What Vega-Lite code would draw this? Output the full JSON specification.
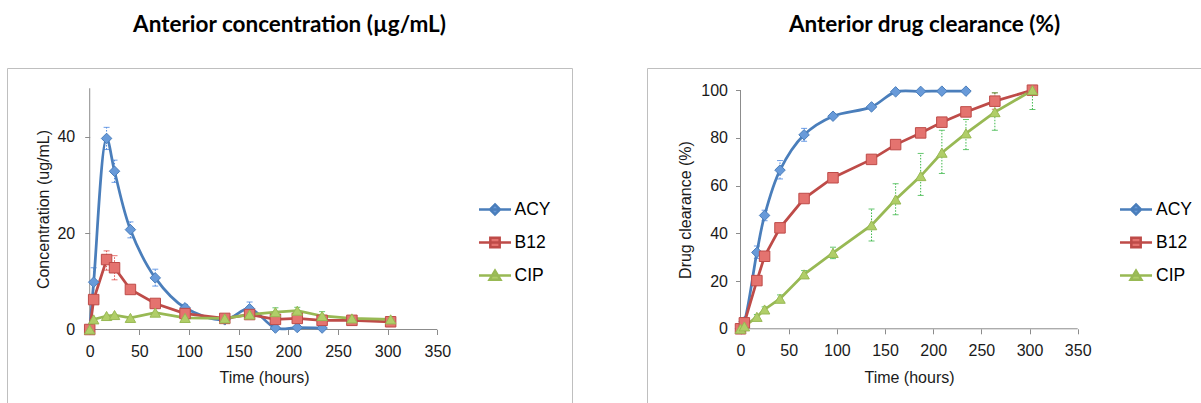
{
  "$schema": "https://vega.github.io/schema/vega-lite/v6.json",
  "padding": {"left": 6, "top": 13, "right": 0, "bottom": 0},
  "autosize": {"type": "pad"},
  "background": "white",
  "spacing": 73,
  "datasets": {
    "axisL": [{"x0": 0, "x1": 350, "y0": 0, "y1": 0}, {"x0": 0, "x1": 0, "y0": 0, "y1": 50}],
    "axisR": [{"x0": 0, "x1": 350, "y0": 0, "y1": 0}, {"x0": 0, "x1": 0, "y0": 0, "y1": 100}],
    "conc": [
      {"t": 0, "s": "ACY", "v": 0}, {"t": 4, "s": "ACY", "v": 9.8}, {"t": 17, "s": "ACY", "v": 39.6}, {"t": 25, "s": "ACY", "v": 32.8}, {"t": 41, "s": "ACY", "v": 20.7}, {"t": 66, "s": "ACY", "v": 10.7}, {"t": 96, "s": "ACY", "v": 4.5}, {"t": 136, "s": "ACY", "v": 2}, {"t": 161, "s": "ACY", "v": 4.3}, {"t": 187, "s": "ACY", "v": 0.3}, {"t": 209, "s": "ACY", "v": 0.4}, {"t": 234, "s": "ACY", "v": 0.3},
      {"t": 0, "s": "B12", "v": 0}, {"t": 4, "s": "B12", "v": 6.2}, {"t": 17, "s": "B12", "v": 14.5}, {"t": 25, "s": "B12", "v": 12.8}, {"t": 41, "s": "B12", "v": 8.3}, {"t": 66, "s": "B12", "v": 5.4}, {"t": 96, "s": "B12", "v": 3.3}, {"t": 136, "s": "B12", "v": 2.3}, {"t": 161, "s": "B12", "v": 3.1}, {"t": 187, "s": "B12", "v": 2.1}, {"t": 209, "s": "B12", "v": 2.3}, {"t": 234, "s": "B12", "v": 1.9}, {"t": 264, "s": "B12", "v": 1.9}, {"t": 303, "s": "B12", "v": 1.6},
      {"t": 0, "s": "CIP", "v": 0}, {"t": 4, "s": "CIP", "v": 2.1}, {"t": 17, "s": "CIP", "v": 2.8}, {"t": 25, "s": "CIP", "v": 3.0}, {"t": 41, "s": "CIP", "v": 2.4}, {"t": 66, "s": "CIP", "v": 3.5}, {"t": 96, "s": "CIP", "v": 2.4}, {"t": 136, "s": "CIP", "v": 2.3}, {"t": 161, "s": "CIP", "v": 3.1}, {"t": 187, "s": "CIP", "v": 3.6}, {"t": 209, "s": "CIP", "v": 3.9}, {"t": 234, "s": "CIP", "v": 2.8}, {"t": 264, "s": "CIP", "v": 2.3}, {"t": 303, "s": "CIP", "v": 2.1}
    ],
    "concErr": [
      {"t": 4, "s": "ACY", "lo": 6.8, "hi": 12.8}, {"t": 17, "s": "ACY", "lo": 37.3, "hi": 41.9}, {"t": 25, "s": "ACY", "lo": 30.5, "hi": 35.1}, {"t": 41, "s": "ACY", "lo": 19.0, "hi": 22.3}, {"t": 66, "s": "ACY", "lo": 9.0, "hi": 12.5}, {"t": 96, "s": "ACY", "lo": 3.9, "hi": 5.2}, {"t": 161, "s": "ACY", "lo": 3.0, "hi": 5.7},
      {"t": 17, "s": "B12", "lo": 12.3, "hi": 16.3}, {"t": 25, "s": "B12", "lo": 10.3, "hi": 15.3}, {"t": 41, "s": "B12", "lo": 7.5, "hi": 9.1},
      {"t": 187, "s": "CIP", "lo": 2.7, "hi": 4.5}, {"t": 209, "s": "CIP", "lo": 3.2, "hi": 4.6}, {"t": 234, "s": "CIP", "lo": 1.9, "hi": 3.7}
    ],
    "clear": [
      {"t": 0, "s": "ACY", "v": 0}, {"t": 4, "s": "ACY", "v": 3}, {"t": 17, "s": "ACY", "v": 32}, {"t": 25, "s": "ACY", "v": 47.5}, {"t": 41, "s": "ACY", "v": 66.5}, {"t": 66, "s": "ACY", "v": 81.3}, {"t": 96, "s": "ACY", "v": 89.1}, {"t": 136, "s": "ACY", "v": 93}, {"t": 161, "s": "ACY", "v": 99.3}, {"t": 187, "s": "ACY", "v": 99.5}, {"t": 209, "s": "ACY", "v": 99.6}, {"t": 234, "s": "ACY", "v": 99.6},
      {"t": 0, "s": "B12", "v": 0}, {"t": 4, "s": "B12", "v": 2.5}, {"t": 17, "s": "B12", "v": 20.2}, {"t": 25, "s": "B12", "v": 30.4}, {"t": 41, "s": "B12", "v": 42.3}, {"t": 66, "s": "B12", "v": 54.6}, {"t": 96, "s": "B12", "v": 63.3}, {"t": 136, "s": "B12", "v": 71}, {"t": 161, "s": "B12", "v": 77.2}, {"t": 187, "s": "B12", "v": 82.1}, {"t": 209, "s": "B12", "v": 86.6}, {"t": 234, "s": "B12", "v": 90.9}, {"t": 264, "s": "B12", "v": 95.4}, {"t": 303, "s": "B12", "v": 100},
      {"t": 0, "s": "CIP", "v": 0}, {"t": 4, "s": "CIP", "v": 1}, {"t": 17, "s": "CIP", "v": 5}, {"t": 25, "s": "CIP", "v": 8.1}, {"t": 41, "s": "CIP", "v": 12.6}, {"t": 66, "s": "CIP", "v": 22.8}, {"t": 96, "s": "CIP", "v": 31.8}, {"t": 136, "s": "CIP", "v": 43.4}, {"t": 161, "s": "CIP", "v": 54.2}, {"t": 187, "s": "CIP", "v": 64}, {"t": 209, "s": "CIP", "v": 73.8}, {"t": 234, "s": "CIP", "v": 81.9}, {"t": 264, "s": "CIP", "v": 90.8}, {"t": 303, "s": "CIP", "v": 100}
    ],
    "clearErr": [
      {"t": 17, "s": "ACY", "lo": 29.5, "hi": 34.7}, {"t": 25, "s": "ACY", "lo": 45.3, "hi": 49.7}, {"t": 41, "s": "ACY", "lo": 62.8, "hi": 70.5}, {"t": 66, "s": "ACY", "lo": 78.6, "hi": 84},
      {"t": 264, "s": "B12", "lo": 92, "hi": 98.9},
      {"t": 17, "s": "CIP", "lo": 4, "hi": 6}, {"t": 25, "s": "CIP", "lo": 7, "hi": 9.2}, {"t": 41, "s": "CIP", "lo": 11, "hi": 14.2}, {"t": 66, "s": "CIP", "lo": 21.2, "hi": 24.4}, {"t": 96, "s": "CIP", "lo": 29.4, "hi": 34.2}, {"t": 136, "s": "CIP", "lo": 36.8, "hi": 50.2}, {"t": 161, "s": "CIP", "lo": 47.8, "hi": 60.8}, {"t": 187, "s": "CIP", "lo": 55.9, "hi": 73.5}, {"t": 209, "s": "CIP", "lo": 65.1, "hi": 83.2}, {"t": 234, "s": "CIP", "lo": 75.1, "hi": 87.7}, {"t": 264, "s": "CIP", "lo": 83.2, "hi": 98.9}, {"t": 303, "s": "CIP", "lo": 91.9, "hi": 100}
    ]
  },
  "hconcat": [
    {
      "title": {"text": "Anterior concentration (µg/mL)"},
      "width": 565,
      "height": 336,
      "layer": [
        {
          "data": {"name": "axisL"},
          "mark": {"type": "rule", "color": "#8C8C8C", "strokeWidth": 1},
          "encoding": {
            "x": {"field": "x0", "type": "quantitative", "scale": {"domain": [-83.27, 485.6], "nice": false, "zero": false},
              "axis": {"title": "Time (hours)", "values": [0, 50, 100, 150, 200, 250, 300, 350], "offset": -74.5, "labelPadding": 9, "titleX": 257, "titleY": 52.5}},
            "x2": {"field": "x1"},
            "y": {"field": "y0", "type": "quantitative", "scale": {"domain": [-15.44, 54.2], "nice": false, "zero": false},
              "axis": {"title": "Concentration (ug/mL)", "values": [0, 20, 40], "offset": -82.7, "labelPadding": 10, "titleX": -41.4, "titleY": 141}},
            "y2": {"field": "y1"}
          }
        },
        {
          "data": {"name": "conc"},
          "mark": {"type": "point", "filled": true, "opacity": 0},
          "encoding": {
            "x": {"field": "t", "type": "quantitative"},
            "y": {"field": "v", "type": "quantitative"},
            "shape": {"field": "s", "type": "nominal", "scale": {"domain": ["ACY", "B12", "CIP"], "range": ["M-1.47,0H1.47M0,-0.46L0.46,0L0,0.46L-0.46,0Z", "M-1.47,0H1.47M-0.43,-0.43H0.43V0.43H-0.43Z", "M-1.47,0H1.47M0,-0.45L0.5,0.38H-0.5Z"]},
              "legend": {"title": null, "orient": "none", "legendX": 475.5, "legendY": 129, "symbolSize": 475, "symbolStrokeWidth": 2.5, "symbolOpacity": 1, "labelFontSize": 17.5, "labelFont": "Liberation Sans", "labelColor": "#000000", "labelOffset": 7, "rowPadding": 10, "padding": 0}},
            "fill": {"field": "s", "type": "nominal", "scale": {"domain": ["ACY", "B12", "CIP"], "range": ["#689AD9", "#E4736F", "#B0CE68"]}},
            "stroke": {"field": "s", "type": "nominal", "scale": {"domain": ["ACY", "B12", "CIP"], "range": ["#4A7EBB", "#BE4B48", "#98B954"]}}
          }
        },
        {
          "data": {"name": "concErr"},
          "mark": {"type": "rule", "strokeWidth": 1, "strokeDash": [1.5, 1.5]},
          "encoding": {
            "x": {"field": "t", "type": "quantitative"},
            "y": {"field": "lo", "type": "quantitative"},
            "y2": {"field": "hi"},
            "color": {"field": "s", "type": "nominal", "scale": {"domain": ["ACY", "B12", "CIP"], "range": ["#4A86E0", "#E0504C", "#3DB84A"]}}
          }
        },
        {
          "data": {"name": "concErr"},
          "mark": {"type": "tick", "orient": "horizontal", "size": 6, "thickness": 1, "opacity": 0.8},
          "encoding": {
            "x": {"field": "t", "type": "quantitative"},
            "y": {"field": "lo", "type": "quantitative"},
            "color": {"field": "s", "type": "nominal"}
          }
        },
        {
          "data": {"name": "concErr"},
          "mark": {"type": "tick", "orient": "horizontal", "size": 6, "thickness": 1, "opacity": 0.8},
          "encoding": {
            "x": {"field": "t", "type": "quantitative"},
            "y": {"field": "hi", "type": "quantitative"},
            "color": {"field": "s", "type": "nominal"}
          }
        },
        {
          "data": {"name": "conc"},
          "transform": [{"filter": "datum.s === 'ACY'"}],
          "mark": {"type": "line", "interpolate": "catmull-rom", "strokeWidth": 2.75},
          "encoding": {
            "x": {"field": "t", "type": "quantitative"},
            "y": {"field": "v", "type": "quantitative"},
            "stroke": {"field": "s", "type": "nominal"}
          }
        },
        {
          "data": {"name": "conc"},
          "transform": [{"filter": "datum.s !== 'ACY'"}],
          "mark": {"type": "line", "strokeWidth": 2.75},
          "encoding": {
            "x": {"field": "t", "type": "quantitative"},
            "y": {"field": "v", "type": "quantitative"},
            "stroke": {"field": "s", "type": "nominal"}
          }
        },
        {
          "data": {"name": "conc"},
          "transform": [{"filter": "datum.s === 'ACY'"}],
          "mark": {"type": "point", "shape": "diamond", "filled": true, "strokeWidth": 1, "opacity": 1, "size": 110},
          "encoding": {
            "x": {"field": "t", "type": "quantitative"},
            "y": {"field": "v", "type": "quantitative"},
            "fill": {"field": "s", "type": "nominal"},
            "stroke": {"field": "s", "type": "nominal"}
          }
        },
        {
          "data": {"name": "conc"},
          "transform": [{"filter": "datum.s === 'B12'"}],
          "mark": {"type": "point", "shape": "square", "filled": true, "strokeWidth": 1, "opacity": 1, "size": 110},
          "encoding": {
            "x": {"field": "t", "type": "quantitative"},
            "y": {"field": "v", "type": "quantitative"},
            "fill": {"field": "s", "type": "nominal"},
            "stroke": {"field": "s", "type": "nominal"}
          }
        },
        {
          "data": {"name": "conc"},
          "transform": [{"filter": "datum.s === 'CIP'"}],
          "mark": {"type": "point", "shape": "triangle-up", "filled": true, "strokeWidth": 1, "opacity": 1, "size": 110},
          "encoding": {
            "x": {"field": "t", "type": "quantitative"},
            "y": {"field": "v", "type": "quantitative"},
            "fill": {"field": "s", "type": "nominal"},
            "stroke": {"field": "s", "type": "nominal"}
          }
        }
      ]
    },
    {
      "title": {"text": "Anterior drug clearance (%)"},
      "width": 555,
      "height": 336,
      "layer": [
        {
          "data": {"name": "axisR"},
          "mark": {"type": "rule", "color": "#8C8C8C", "strokeWidth": 1},
          "encoding": {
            "x": {"field": "x0", "type": "quantitative", "scale": {"domain": [-97.05, 479.0], "nice": false, "zero": false},
              "axis": {"title": "Time (hours)", "values": [0, 50, 100, 150, 200, 250, 300, 350], "offset": -75.2, "labelPadding": 9, "titleX": 262, "titleY": 53.2}},
            "x2": {"field": "x1"},
            "y": {"field": "y0", "type": "quantitative", "scale": {"domain": [-31.52, 109.3], "nice": false, "zero": false},
              "axis": {"title": "Drug clearance (%)", "values": [0, 20, 40, 60, 80, 100], "offset": -93.5, "labelPadding": 8, "titleX": -50, "titleY": 141.5}},
            "y2": {"field": "y1"}
          }
        },
        {
          "data": {"name": "clear"},
          "mark": {"type": "point", "filled": true, "opacity": 0},
          "encoding": {
            "x": {"field": "t", "type": "quantitative"},
            "y": {"field": "v", "type": "quantitative"},
            "shape": {"field": "s", "type": "nominal", "scale": {"domain": ["ACY", "B12", "CIP"], "range": ["M-1.47,0H1.47M0,-0.46L0.46,0L0,0.46L-0.46,0Z", "M-1.47,0H1.47M-0.43,-0.43H0.43V0.43H-0.43Z", "M-1.47,0H1.47M0,-0.45L0.5,0.38H-0.5Z"]},
              "legend": {"title": null, "orient": "none", "legendX": 476.5, "legendY": 129, "symbolSize": 475, "symbolStrokeWidth": 2.5, "symbolOpacity": 1, "labelFontSize": 17.5, "labelFont": "Liberation Sans", "labelColor": "#000000", "labelOffset": 7.5, "rowPadding": 10, "padding": 0}},
            "fill": {"field": "s", "type": "nominal", "scale": {"domain": ["ACY", "B12", "CIP"], "range": ["#689AD9", "#E4736F", "#B0CE68"]}},
            "stroke": {"field": "s", "type": "nominal", "scale": {"domain": ["ACY", "B12", "CIP"], "range": ["#4A7EBB", "#BE4B48", "#98B954"]}}
          }
        },
        {
          "data": {"name": "clearErr"},
          "mark": {"type": "rule", "strokeWidth": 1, "strokeDash": [1.5, 1.5]},
          "encoding": {
            "x": {"field": "t", "type": "quantitative"},
            "y": {"field": "lo", "type": "quantitative"},
            "y2": {"field": "hi"},
            "color": {"field": "s", "type": "nominal", "scale": {"domain": ["ACY", "B12", "CIP"], "range": ["#4A86E0", "#E0504C", "#3DB84A"]}}
          }
        },
        {
          "data": {"name": "clearErr"},
          "mark": {"type": "tick", "orient": "horizontal", "size": 6, "thickness": 1, "opacity": 0.8},
          "encoding": {
            "x": {"field": "t", "type": "quantitative"},
            "y": {"field": "lo", "type": "quantitative"},
            "color": {"field": "s", "type": "nominal"}
          }
        },
        {
          "data": {"name": "clearErr"},
          "mark": {"type": "tick", "orient": "horizontal", "size": 6, "thickness": 1, "opacity": 0.8},
          "encoding": {
            "x": {"field": "t", "type": "quantitative"},
            "y": {"field": "hi", "type": "quantitative"},
            "color": {"field": "s", "type": "nominal"}
          }
        },
        {
          "data": {"name": "clear"},
          "transform": [{"filter": "datum.s === 'ACY'"}],
          "mark": {"type": "line", "interpolate": "catmull-rom", "strokeWidth": 2.75},
          "encoding": {
            "x": {"field": "t", "type": "quantitative"},
            "y": {"field": "v", "type": "quantitative"},
            "stroke": {"field": "s", "type": "nominal"}
          }
        },
        {
          "data": {"name": "clear"},
          "transform": [{"filter": "datum.s !== 'ACY'"}],
          "mark": {"type": "line", "strokeWidth": 2.75},
          "encoding": {
            "x": {"field": "t", "type": "quantitative"},
            "y": {"field": "v", "type": "quantitative"},
            "stroke": {"field": "s", "type": "nominal"}
          }
        },
        {
          "data": {"name": "clear"},
          "transform": [{"filter": "datum.s === 'ACY'"}],
          "mark": {"type": "point", "shape": "diamond", "filled": true, "strokeWidth": 1, "opacity": 1, "size": 110},
          "encoding": {
            "x": {"field": "t", "type": "quantitative"},
            "y": {"field": "v", "type": "quantitative"},
            "fill": {"field": "s", "type": "nominal"},
            "stroke": {"field": "s", "type": "nominal"}
          }
        },
        {
          "data": {"name": "clear"},
          "transform": [{"filter": "datum.s === 'B12'"}],
          "mark": {"type": "point", "shape": "square", "filled": true, "strokeWidth": 1, "opacity": 1, "size": 110},
          "encoding": {
            "x": {"field": "t", "type": "quantitative"},
            "y": {"field": "v", "type": "quantitative"},
            "fill": {"field": "s", "type": "nominal"},
            "stroke": {"field": "s", "type": "nominal"}
          }
        },
        {
          "data": {"name": "clear"},
          "transform": [{"filter": "datum.s === 'CIP'"}],
          "mark": {"type": "point", "shape": "triangle-up", "filled": true, "strokeWidth": 1, "opacity": 1, "size": 110},
          "encoding": {
            "x": {"field": "t", "type": "quantitative"},
            "y": {"field": "v", "type": "quantitative"},
            "fill": {"field": "s", "type": "nominal"},
            "stroke": {"field": "s", "type": "nominal"}
          }
        }
      ]
    }
  ],
  "resolve": {
    "scale": {"x": "independent", "y": "independent", "color": "independent", "fill": "independent", "stroke": "independent", "shape": "independent"},
    "legend": {"shape": "independent", "color": "independent", "fill": "independent", "stroke": "independent"}
  },
  "config": {
    "view": {"stroke": "#BFBFBF", "strokeWidth": 1},
    "axis": {"grid": false, "domain": false, "ticks": true, "tickColor": "#8C8C8C", "tickSize": 5, "labelFont": "Liberation Sans", "labelFontSize": 16, "labelColor": "#1A1A1A", "labelFlush": false, "labelOverlap": false, "titleFont": "Liberation Sans", "titleFontSize": 16, "titleFontWeight": "normal", "titleColor": "#1A1A1A", "titleBaseline": "alphabetic", "titleAlign": "center"},
    "title": {"font": "Lato", "fontSize": 22.5, "fontWeight": "bold", "color": "#000000", "anchor": "middle", "baseline": "alphabetic", "offset": 32}
  }
}
